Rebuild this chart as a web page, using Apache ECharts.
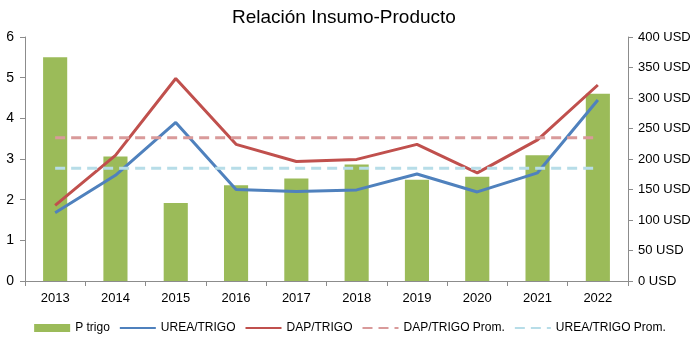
<!DOCTYPE html>
<html>
<head>
<meta charset="utf-8">
<script src="https://cdn.jsdelivr.net/npm/echarts@6/dist/echarts.min.js"></script>
<style>
  html, body { margin: 0; padding: 0; background: #fff; }
  #chart { width: 700px; height: 351px; }
</style>
</head>
<body>
<div id="chart"></div>
<script>
// datos
const years = ["2013", "2014", "2015", "2016", "2017", "2018", "2019", "2020", "2021", "2022"];
const pTrigo = [367, 204, 128, 157, 168, 191, 166, 171, 206, 307];
const ureaTrigo = [1.68, 2.6, 3.9, 2.25, 2.2, 2.24, 2.63, 2.19, 2.66, 4.45];
const dapTrigo = [1.86, 3.09, 4.98, 3.36, 2.94, 2.99, 3.36, 2.66, 3.47, 4.82];
const dapProm = [3.52, 3.52, 3.52, 3.52, 3.52, 3.52, 3.52, 3.52, 3.52, 3.52];
const ureaProm = [2.77, 2.77, 2.77, 2.77, 2.77, 2.77, 2.77, 2.77, 2.77, 2.77];

const axisColor = "#8c8c8c";
const noSymbol = { color: "rgba(0,0,0,0)", borderColor: "rgba(0,0,0,0)", borderWidth: 0 };
const myChart = echarts.init(document.querySelector("#chart"));

const option = {
  animation: false,
  title: {
    text: "Relación Insumo-Producto",
    left: 227,
    top: 3,
    textStyle: {
      fontFamily: "Liberation Sans",
      fontWeight: "normal",
      fontSize: 19,
      color: "#000",
    },
  },
  legend: {
    bottom: 12,
    left: "center",
    itemGap: 9,
    itemWidth: 36,
    itemHeight: 8,
    textStyle: {
      fontFamily: "Liberation Sans",
      fontSize: 12,
      color: "#000",
    },
    data: [
      { name: "P trigo", icon: "rect" },
      { name: "UREA/TRIGO", itemStyle: noSymbol },
      { name: "DAP/TRIGO", itemStyle: noSymbol },
      { name: "DAP/TRIGO Prom.", itemStyle: noSymbol },
      { name: "UREA/TRIGO Prom.", itemStyle: noSymbol },
    ],
  },
  grid: {
    left: 25,
    right: 72,
    top: 37,
    bottom: 70,
  },
  xAxis: {
    type: "category",
    data: years,
    axisLine: { lineStyle: { color: axisColor } },
    axisTick: { show: true, alignWithLabel: false, length: 5, lineStyle: { color: axisColor } },
    axisLabel: {
      color: "#000",
      fontFamily: "Liberation Sans",
      fontSize: 13,
      margin: 11,
    },
  },
  yAxis: [
    {
      type: "value",
      min: 0,
      max: 6,
      interval: 1,
      splitLine: { show: false },
      axisLine: { show: true, lineStyle: { color: axisColor } },
      axisTick: { show: true, length: 5, lineStyle: { color: axisColor } },
      axisLabel: {
        color: "#000",
        fontFamily: "Liberation Sans",
        fontSize: 14,
        margin: 11,
      },
    },
    {
      type: "value",
      min: 0,
      max: 400,
      interval: 50,
      position: "right",
      splitLine: { show: false },
      axisLine: { show: true, lineStyle: { color: axisColor } },
      axisTick: { show: true, length: 5, lineStyle: { color: axisColor } },
      axisLabel: {
        color: "#000",
        fontFamily: "Liberation Sans",
        fontSize: 13,
        margin: 10,
        formatter: "{value} USD",
      },
    },
  ],
  series: [
    {
      name: "P trigo",
      type: "bar",
      yAxisIndex: 1,
      barWidth: "40%",
      itemStyle: { color: "#9bbb59" },
      data: pTrigo,
    },
    {
      name: "UREA/TRIGO",
      type: "line",
      symbol: "none",
      lineStyle: { color: "#4f81bd", width: 3 },
      itemStyle: { color: "#4f81bd" },
      data: ureaTrigo,
    },
    {
      name: "DAP/TRIGO",
      type: "line",
      symbol: "none",
      lineStyle: { color: "#c0504d", width: 3 },
      itemStyle: { color: "#c0504d" },
      data: dapTrigo,
    },
    {
      name: "DAP/TRIGO Prom.",
      type: "line",
      symbol: "none",
      lineStyle: { color: "#d99a9a", width: 3, type: [10, 6] },
      itemStyle: { color: "#d99a9a" },
      data: dapProm,
    },
    {
      name: "UREA/TRIGO Prom.",
      type: "line",
      symbol: "none",
      lineStyle: { color: "#b7dde8", width: 3, type: [10, 6] },
      itemStyle: { color: "#b7dde8" },
      data: ureaProm,
    },
  ],
};

myChart.setOption(option);
</script>
</body>
</html>
